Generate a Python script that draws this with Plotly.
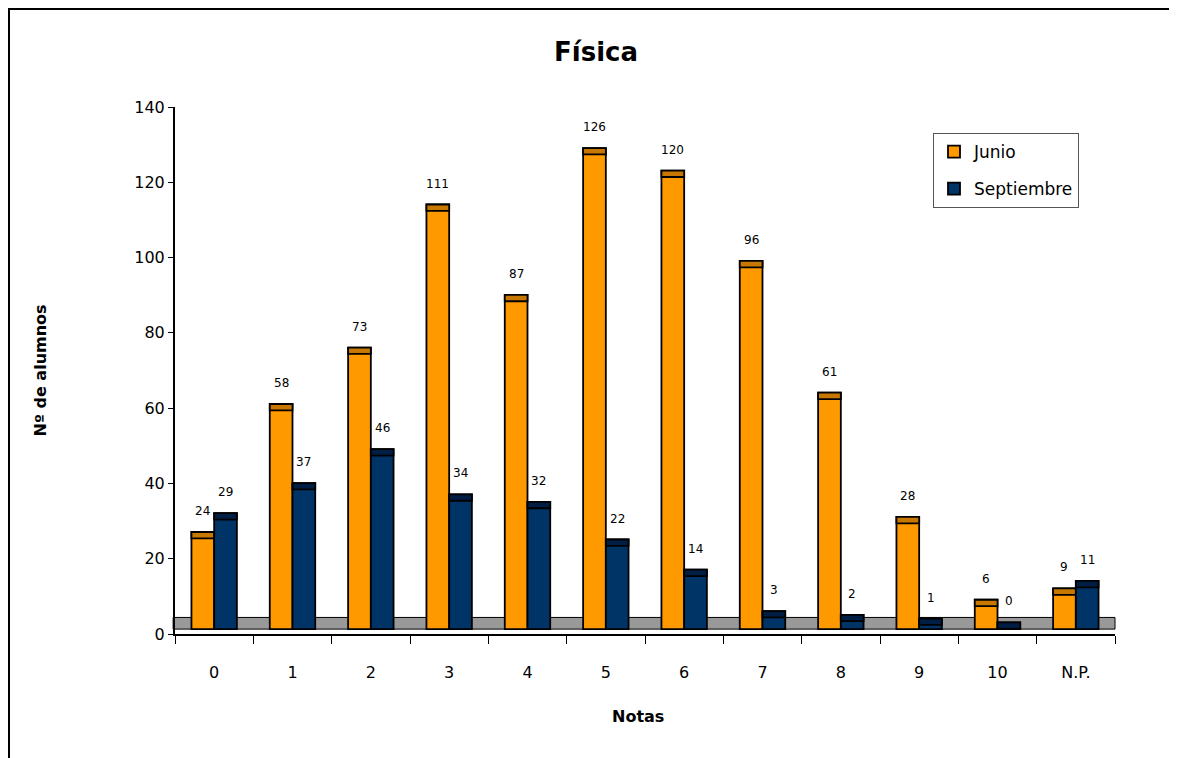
import plotly.graph_objects as go

categories = ["0", "1", "2", "3", "4", "5", "6", "7", "8", "9", "10", "N.P."]
junio = [24, 58, 73, 111, 87, 126, 120, 96, 61, 28, 6, 9]
septiembre = [29, 37, 46, 34, 32, 22, 14, 3, 2, 1, 0, 11]

FONT = "DejaVu Sans"
BASE = 1.3      # floor level (3D look)
TOP = 3.1       # extra visual depth on top of value
CAP = 1.7       # height of the darker top face

ORANGE, ORANGE_CAP = "#FF9900", "#C87800"
NAVY, NAVY_CAP = "#003366", "#001E44"

# page has an 8px body margin: positions below are figure coordinates
L, R, T, B = 167, 70, 99, 132
PW, PH = 1177 - L - R, 758 - T - B

fig = go.Figure()

def add_series(name, vals, color, capcolor, group):
    fig.add_trace(go.Bar(
        x=categories, y=[v + TOP - BASE for v in vals], base=BASE,
        name=name, offsetgroup=group, legendgroup=group,
        marker=dict(color=color, line=dict(color="black", width=1.8)),
        hoverinfo="skip"))
    fig.add_trace(go.Bar(
        x=categories, y=[CAP] * len(vals), base=[v + TOP - CAP for v in vals],
        name=name + " top", offsetgroup=group, showlegend=False,
        marker=dict(color=capcolor, line=dict(color="black", width=1.8)),
        hoverinfo="skip"))

add_series("Junio", junio, ORANGE, ORANGE_CAP, "J")
add_series("Septiembre", septiembre, NAVY, NAVY_CAP, "S")

annotations = []
HALF = 0.145
for i, (j, s) in enumerate(zip(junio, septiembre)):
    annotations.append(dict(x=i - HALF, y=j + TOP, xref="x", yref="y", text=str(j),
                            showarrow=False, yshift=21, xanchor="center", yanchor="middle",
                            font=dict(size=12, color="black", family=FONT)))
    annotations.append(dict(x=i + HALF, y=s + TOP, xref="x", yref="y", text=str(s),
                            showarrow=False, yshift=21, xanchor="center", yanchor="middle",
                            font=dict(size=12, color="black", family=FONT)))

# axis titles (pixel offsets relative to plot area)
annotations.append(dict(x=(40 - 175) / PW, y=0.5, xref="paper", yref="paper", text="<b>Nº de alumnos</b>",
                        textangle=-90, showarrow=False, xanchor="center", yanchor="middle",
                        font=dict(size=16, color="black", family=FONT)))
annotations.append(dict(x=(638 - 175) / PW, y=(634 - 716) / PH, xref="paper", yref="paper", text="<b>Notas</b>",
                        showarrow=False, xanchor="center", yanchor="middle",
                        font=dict(size=16, color="black", family=FONT)))

shapes = [
    # floor
    dict(type="rect", xref="paper", yref="y", x0=-0.002, x1=1.0, y0=BASE, y1=4.4,
         fillcolor="#999999", line=dict(color="black", width=1), layer="below"),
    # outer chart border
    dict(type="rect", xref="paper", yref="paper",
         x0=(1 - L) / PW, x1=(1200 - L) / PW,
         y0=(PH + T - 800) / PH, y1=(PH + T - 1) / PH,
         line=dict(color="black", width=2), fillcolor="rgba(0,0,0,0)"),
]

fig.update_layout(
    width=1177, height=758,
    margin=dict(l=L, r=R, t=T, b=B),
    paper_bgcolor="white", plot_bgcolor="white",
    barmode="group", bargap=0.42, bargroupgap=0,
    font=dict(family=FONT, size=16, color="black"),
    title=dict(text="<b>Física</b>", x=588 / 1177, xanchor="center", xref="container",
               y=1 - 44 / 758, yanchor="middle", yref="container",
               font=dict(size=26, family=FONT, color="black")),
    legend=dict(x=(933 - 175) / PW, y=(634 - 133) / PH, xanchor="left", yanchor="top",
                bgcolor="white", bordercolor="#555555", borderwidth=1,
                font=dict(size=17, family=FONT), tracegroupgap=12),
    annotations=annotations,
    shapes=shapes,
)

fig.update_xaxes(type="category", tickson="boundaries", ticks="outside", ticklen=8,
                 tickcolor="black", showline=True, linecolor="black", linewidth=2,
                 showgrid=False, zeroline=False, ticklabelstandoff=23,
                 tickfont=dict(size=16, family=FONT))
fig.update_yaxes(range=[0, 140], tickvals=list(range(0, 141, 20)), ticks="outside", ticklen=5,
                 tickcolor="black", showline=True, linecolor="black", linewidth=2,
                 showgrid=False, zeroline=False, tickfont=dict(size=16, family=FONT))

fig.write_html("out.html")
